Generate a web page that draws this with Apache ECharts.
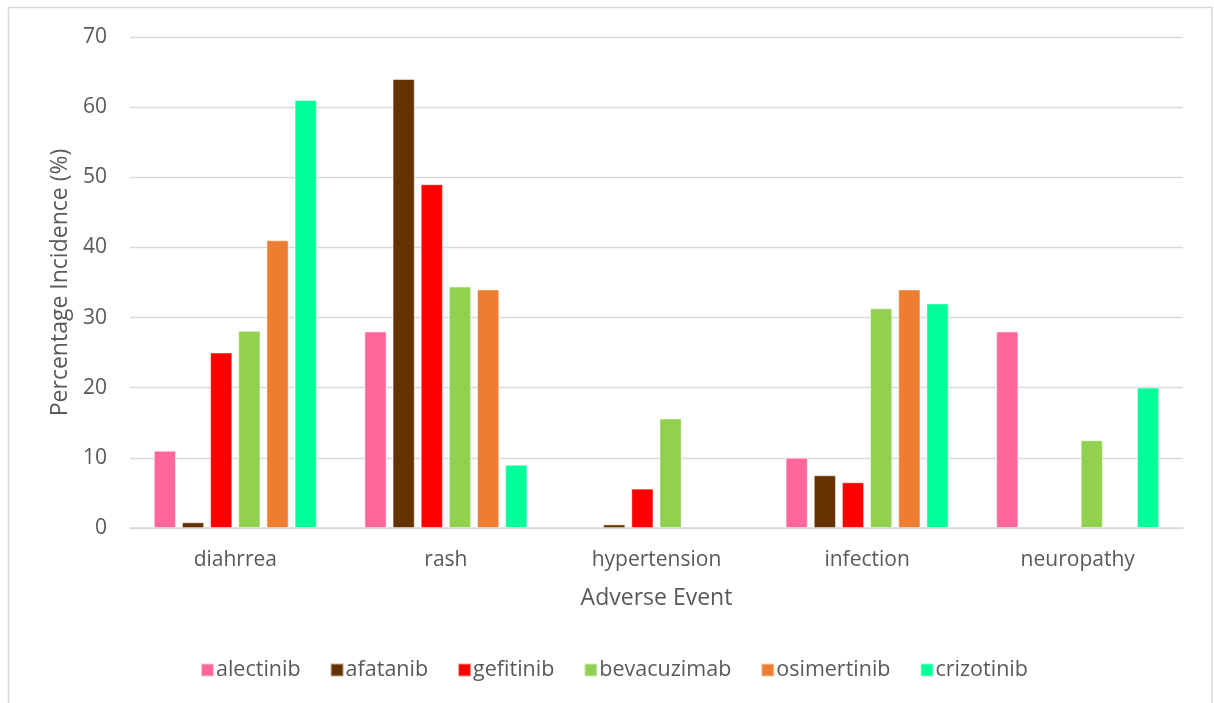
<!DOCTYPE html>
<html>
<head>
<meta charset="utf-8">
<script src="https://cdn.jsdelivr.net/npm/echarts@6/dist/echarts.min.js"></script>
<style>
  html, body { margin: 0; padding: 0; background: #ffffff; }
  #chart { width: 1214px; height: 703px; }
</style>
</head>
<body>
<div id="chart"></div>
<script>
// Adverse events and incidence (%) per drug
const categories = ['diahrrea', 'rash', 'hypertension', 'infection', 'neuropathy'];
const drugNames = ['alectinib', 'afatanib', 'gefitinib', 'bevacuzimab', 'osimertinib', 'crizotinib'];
const alectinib   = [11, 28, null, 10, 28];
const afatanib    = [0.8, 64, 0.5, 7.5, null];
const gefitinib   = [25, 49, 5.6, 6.5, null];
const bevacuzimab = [28.1, 34.4, 15.6, 31.3, 12.5];
const osimertinib = [41, 34, null, 34, null];
const crizotinib  = [61, 9, null, 32, 20];
const yTicks = [0, 10, 20, 30, 40, 50, 60, 70];

const seriesValues = [alectinib, afatanib, gefitinib, bevacuzimab, osimertinib, crizotinib];
const colors = ['#FF6699', '#663300', '#FF0000', '#92D050', '#ED7D31', '#00FF99'];

const FONT = '"Open Sans"';
const TEXT = '#595959';
const GRID = '#D9D9D9';

const chart = echarts.init(document.getElementById('chart'), null, { renderer: 'canvas' });

chart.setOption({
  animation: false,
  backgroundColor: '#ffffff',
  color: colors,
  textStyle: { fontFamily: FONT, color: TEXT },
  graphic: [{
    type: 'rect',
    shape: { x: 8.5, y: 7.5, width: 1203.5, height: 720 },
    style: { fill: 'none', stroke: GRID, lineWidth: 1.5 },
    silent: true
  }],
  grid: { left: 130, right: 31, top: 37, bottom: 175, containLabel: false },
  legend: {
    data: drugNames,
    left: 195,
    top: 654,
    icon: 'rect',
    itemWidth: 13,
    itemHeight: 13,
    itemGap: 29,
    textStyle: { fontFamily: FONT, fontSize: 21.5, color: TEXT, padding: [0, 0, 0, -3] }
  },
  xAxis: {
    type: 'category',
    data: categories,
    name: 'Adverse Event',
    nameLocation: 'middle',
    nameGap: 59,
    nameTextStyle: { fontFamily: FONT, fontSize: 23, color: TEXT, verticalAlign: 'top' },
    axisLine: { show: true, lineStyle: { color: GRID, width: 1.5 } },
    axisTick: { show: false },
    axisLabel: { margin: 22, fontFamily: FONT, fontSize: 21, color: TEXT }
  },
  yAxis: {
    type: 'value',
    min: yTicks[0],
    max: yTicks[yTicks.length - 1],
    interval: yTicks[1] - yTicks[0],
    name: 'Percentage Incidence (%)',
    nameLocation: 'middle',
    nameGap: 58,
    nameTextStyle: { fontFamily: FONT, fontSize: 23, color: TEXT },
    axisLine: { show: false },
    axisTick: { show: false },
    splitLine: { lineStyle: { color: GRID, width: 1.3 } },
    axisLabel: { margin: 23, fontFamily: FONT, fontSize: 21, color: TEXT }
  },
  series: drugNames.map((name, i) => ({
    name: name,
    type: 'bar',
    data: seriesValues[i],
    barWidth: 22,
    barGap: '28%',
    itemStyle: { color: colors[i], borderColor: 'rgba(255,255,255,0.6)', borderWidth: 0.8 }
  }))
});
</script>
</body>
</html>
